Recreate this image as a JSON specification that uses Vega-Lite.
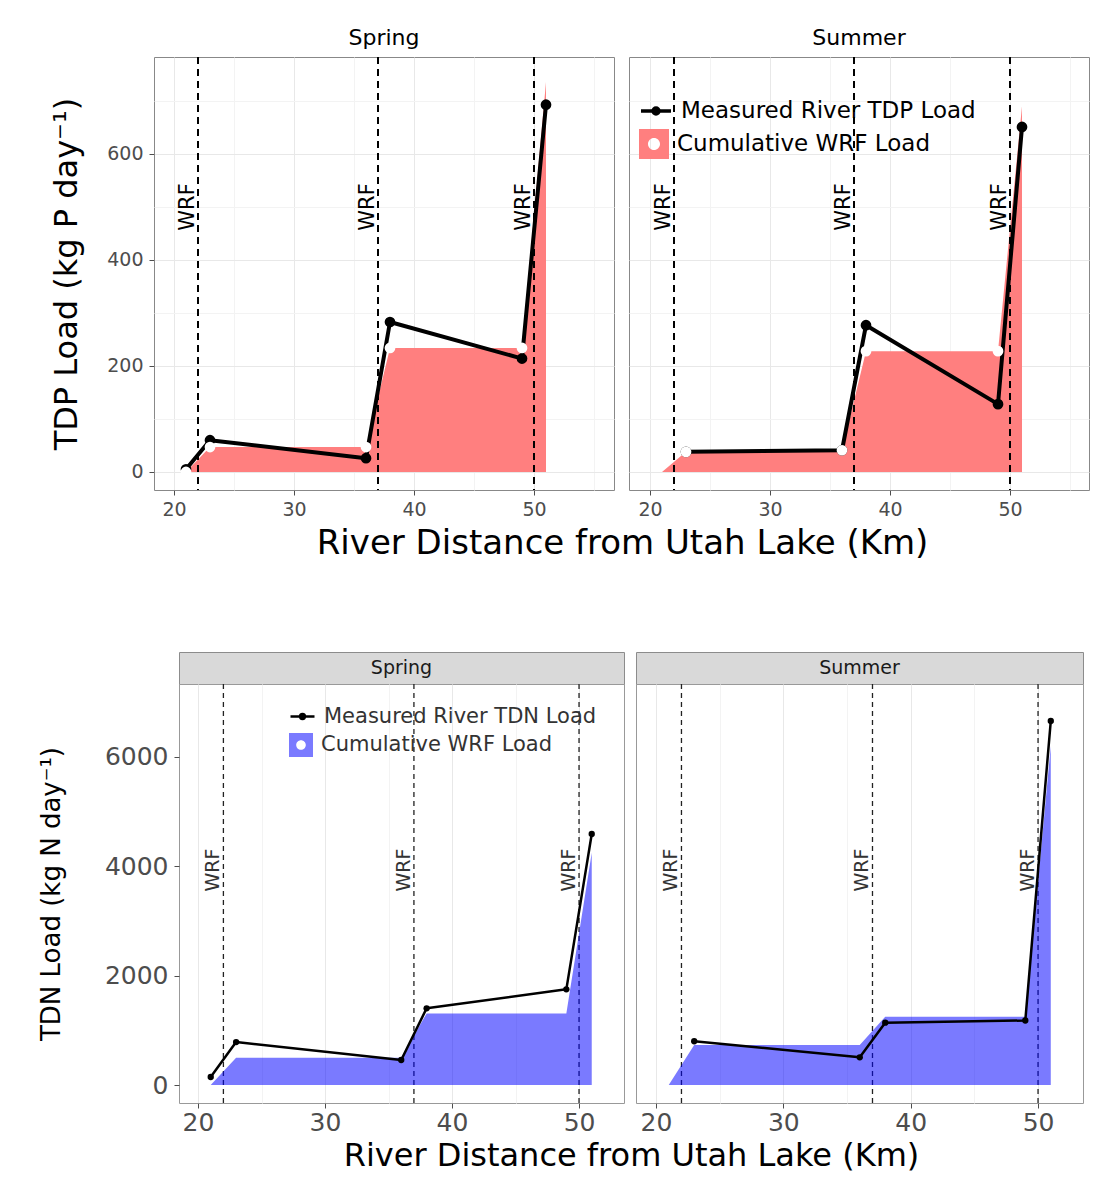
{
  "$schema": "https://vega.github.io/schema/vega-lite/v6.json",
  "background": "white",
  "padding": {"left": 37, "top": 26, "right": 10, "bottom": 10},
  "bounds": "flush",
  "spacing": 595,
  "resolve": {"scale": {"color": "independent", "fill": "independent", "stroke": "independent", "x": "independent", "y": "independent"}},
  "config": {
    "font": "DejaVu Sans",
    "view": {"stroke": "#888888"},
    "axis": {"labelFont": "DejaVu Sans", "titleFont": "DejaVu Sans", "labelColor": "#4D4D4D", "titleColor": "black", "tickColor": "#4D4D4D", "tickSize": 5, "domain": false, "gridColor": "#EBEBEB", "titleFontWeight": "normal", "labelOverlap": false},
    "legend": {"labelFont": "DejaVu Sans", "labelLimit": 600, "padding": 0, "title": null}
  },
  "datasets": {
    "tdp": [
      {"season": "Spring", "series": "Measured River TDP Load", "km": 21, "load": 5},
      {"season": "Spring", "series": "Measured River TDP Load", "km": 23, "load": 60},
      {"season": "Spring", "series": "Measured River TDP Load", "km": 36, "load": 26},
      {"season": "Spring", "series": "Measured River TDP Load", "km": 38, "load": 283},
      {"season": "Spring", "series": "Measured River TDP Load", "km": 49, "load": 214},
      {"season": "Spring", "series": "Measured River TDP Load", "km": 51, "load": 693},
      {"season": "Spring", "series": "Cumulative WRF Load", "km": 21, "load": 0},
      {"season": "Spring", "series": "Cumulative WRF Load", "km": 23, "load": 47},
      {"season": "Spring", "series": "Cumulative WRF Load", "km": 36, "load": 47},
      {"season": "Spring", "series": "Cumulative WRF Load", "km": 38, "load": 234},
      {"season": "Spring", "series": "Cumulative WRF Load", "km": 49, "load": 234},
      {"season": "Spring", "series": "Cumulative WRF Load", "km": 51, "load": 736},
      {"season": "Summer", "series": "Measured River TDP Load", "km": 23, "load": 38},
      {"season": "Summer", "series": "Measured River TDP Load", "km": 36, "load": 41},
      {"season": "Summer", "series": "Measured River TDP Load", "km": 38, "load": 277},
      {"season": "Summer", "series": "Measured River TDP Load", "km": 49, "load": 128},
      {"season": "Summer", "series": "Measured River TDP Load", "km": 51, "load": 651},
      {"season": "Summer", "series": "Cumulative WRF Load", "km": 21, "load": 0},
      {"season": "Summer", "series": "Cumulative WRF Load", "km": 23, "load": 38},
      {"season": "Summer", "series": "Cumulative WRF Load", "km": 36, "load": 41},
      {"season": "Summer", "series": "Cumulative WRF Load", "km": 38, "load": 228},
      {"season": "Summer", "series": "Cumulative WRF Load", "km": 49, "load": 228},
      {"season": "Summer", "series": "Cumulative WRF Load", "km": 51, "load": 690}
    ],
    "tdn": [
      {"season": "Spring", "series": "Measured River TDN Load", "km": 21, "load": 146},
      {"season": "Spring", "series": "Measured River TDN Load", "km": 23, "load": 786},
      {"season": "Spring", "series": "Measured River TDN Load", "km": 36, "load": 457},
      {"season": "Spring", "series": "Measured River TDN Load", "km": 38, "load": 1403},
      {"season": "Spring", "series": "Measured River TDN Load", "km": 49, "load": 1750},
      {"season": "Spring", "series": "Measured River TDN Load", "km": 51, "load": 4591},
      {"season": "Spring", "series": "Cumulative WRF Load", "km": 21, "load": 0},
      {"season": "Spring", "series": "Cumulative WRF Load", "km": 23, "load": 500},
      {"season": "Spring", "series": "Cumulative WRF Load", "km": 36, "load": 500},
      {"season": "Spring", "series": "Cumulative WRF Load", "km": 38, "load": 1310},
      {"season": "Spring", "series": "Cumulative WRF Load", "km": 49, "load": 1310},
      {"season": "Spring", "series": "Cumulative WRF Load", "km": 51, "load": 4250},
      {"season": "Summer", "series": "Measured River TDN Load", "km": 23, "load": 800},
      {"season": "Summer", "series": "Measured River TDN Load", "km": 36, "load": 507},
      {"season": "Summer", "series": "Measured River TDN Load", "km": 38, "load": 1140},
      {"season": "Summer", "series": "Measured River TDN Load", "km": 49, "load": 1180},
      {"season": "Summer", "series": "Measured River TDN Load", "km": 51, "load": 6658},
      {"season": "Summer", "series": "Cumulative WRF Load", "km": 21, "load": 0},
      {"season": "Summer", "series": "Cumulative WRF Load", "km": 23, "load": 730},
      {"season": "Summer", "series": "Cumulative WRF Load", "km": 36, "load": 730},
      {"season": "Summer", "series": "Cumulative WRF Load", "km": 38, "load": 1250},
      {"season": "Summer", "series": "Cumulative WRF Load", "km": 49, "load": 1250},
      {"season": "Summer", "series": "Cumulative WRF Load", "km": 51, "load": 6200}
    ],
    "wrf": [
      {"km": 22, "label": "WRF"},
      {"km": 37, "label": "WRF"},
      {"km": 50, "label": "WRF"}
    ],
    "strips": [
      {"season": "Spring"},
      {"season": "Summer"}
    ]
  },
  "vconcat": [
    {
      "hconcat": [
        {
          "width": 460, "height": 433,
          "title": {"text": "Spring", "fontSize": 22, "fontWeight": "normal", "font": "DejaVu Sans", "offset": 6, "anchor": "middle", "color": "black"},
          "encoding": {"x": {"field": "km", "type": "quantitative", "scale": {"domain": [18.333, 56.667], "nice": false, "zero": false},
            "axis": {"values": [20, 25, 30, 35, 40, 45, 50, 55], "labelExpr": "datum.value % 10 === 0 ? datum.label : ''",
              "tickOpacity": {"condition": {"test": "datum.value % 10 !== 0", "value": 0}, "value": 1},
              "gridColor": {"condition": {"test": "datum.value % 10 !== 0", "value": "#F3F3F3"}, "value": "#E8E8E8"},
              "labelFontSize": 19, "labelPadding": 5,
              "title": "River Distance from Utah Lake (Km)", "titleFontSize": 34, "titleX": 468, "titleY": 53, "titleBaseline": "middle"}}},
          "layer": [
            {"data": {"name": "tdp"}, "transform": [{"filter": "datum.season === 'Spring' && datum.series === 'Cumulative WRF Load'"}],
             "mark": {"type": "area", "color": "#FF7F7F", "opacity": 1},
             "encoding": {"y": {"field": "load", "type": "quantitative", "scale": {"domain": [-34, 783], "nice": false, "zero": false},
               "axis": {"values": [0, 100, 200, 300, 400, 500, 600, 700], "labelExpr": "datum.value % 200 === 0 ? datum.label : ''",
                 "tickOpacity": {"condition": {"test": "datum.value % 200 !== 0", "value": 0}, "value": 1},
                 "gridColor": {"condition": {"test": "datum.value % 200 !== 0", "value": "#F3F3F3"}, "value": "#E8E8E8"},
                 "labelFontSize": 19, "labelPadding": 6,
                 "title": "TDP Load (kg P day⁻¹)", "titleFontSize": 32, "titleX": -88, "titleBaseline": "middle"}}}},
            {"data": {"name": "wrf"}, "mark": {"type": "rule", "color": "black", "strokeWidth": 2, "strokeDash": [7, 5]}, "encoding": {}},
            {"data": {"name": "wrf"}, "mark": {"type": "text", "angle": 270, "baseline": "bottom", "align": "center", "fontSize": 21, "font": "DejaVu Sans", "color": "black"},
             "encoding": {"y": {"datum": 500, "scale": {"domain": [-34, 783], "nice": false, "zero": false}}, "text": {"field": "label"}}},
            {"data": {"name": "tdp"}, "transform": [{"filter": "datum.season === 'Spring' && datum.series === 'Measured River TDP Load'"}],
             "mark": {"type": "line", "color": "black", "strokeWidth": 4, "strokeJoin": "round"},
             "encoding": {"y": {"field": "load", "type": "quantitative", "scale": {"domain": [-34, 783], "nice": false, "zero": false}}}},
            {"data": {"name": "tdp"}, "transform": [{"filter": "datum.season === 'Spring' && datum.series === 'Measured River TDP Load'"}],
             "mark": {"type": "point", "filled": true, "color": "black", "size": 115, "opacity": 1},
             "encoding": {"y": {"field": "load", "type": "quantitative", "scale": {"domain": [-34, 783], "nice": false, "zero": false}}}},
            {"data": {"name": "tdp"}, "transform": [{"filter": "datum.season === 'Spring' && datum.series === 'Cumulative WRF Load' && datum.km < 51"}],
             "mark": {"type": "point", "filled": true, "color": "white", "size": 115, "opacity": 1},
             "encoding": {"y": {"field": "load", "type": "quantitative", "scale": {"domain": [-34, 783], "nice": false, "zero": false}}}}
          ]
        },
        {
          "width": 460, "height": 433,
          "title": {"text": "Summer", "fontSize": 22, "fontWeight": "normal", "font": "DejaVu Sans", "offset": 6, "anchor": "middle", "color": "black"},
          "encoding": {"x": {"field": "km", "type": "quantitative", "scale": {"domain": [18.25, 56.583], "nice": false, "zero": false},
            "axis": {"values": [20, 25, 30, 35, 40, 45, 50, 55], "labelExpr": "datum.value % 10 === 0 ? datum.label : ''",
              "tickOpacity": {"condition": {"test": "datum.value % 10 !== 0", "value": 0}, "value": 1},
              "gridColor": {"condition": {"test": "datum.value % 10 !== 0", "value": "#F3F3F3"}, "value": "#E8E8E8"},
              "labelFontSize": 19, "labelPadding": 5, "title": null}}},
          "layer": [
            {"data": {"name": "tdp"}, "transform": [{"filter": "datum.season === 'Summer' && datum.series === 'Cumulative WRF Load'"}],
             "mark": {"type": "area", "opacity": 1},
             "encoding": {
               "y": {"field": "load", "type": "quantitative", "scale": {"domain": [-34, 783], "nice": false, "zero": false},
                 "axis": {"values": [0, 100, 200, 300, 400, 500, 600, 700], "labels": false, "ticks": false, "title": null,
                   "gridColor": {"condition": {"test": "datum.value % 200 !== 0", "value": "#F3F3F3"}, "value": "#E8E8E8"}}},
               "fill": {"field": "series", "type": "nominal",
                 "scale": {"domain": ["Cumulative WRF Load"], "range": ["#FF7F7F"]},
                 "legend": {"orient": "none", "legendX": 10, "legendY": 72, "symbolSize": 900, "labelFontSize": 23, "labelColor": "black", "labelOffset": 8,
                   "symbolType": "M-1,-1H1V1H-1Z M0,-0.4A0.4,0.4,0,1,0,0,0.4A0.4,0.4,0,1,0,0,-0.4Z",
                   "symbolStrokeColor": "transparent", "symbolStrokeWidth": 0, "symbolOpacity": 1}}}},
            {"data": {"name": "wrf"}, "mark": {"type": "rule", "color": "black", "strokeWidth": 2, "strokeDash": [7, 5]}, "encoding": {}},
            {"data": {"name": "wrf"}, "mark": {"type": "text", "angle": 270, "baseline": "bottom", "align": "center", "fontSize": 21, "font": "DejaVu Sans", "color": "black"},
             "encoding": {"y": {"datum": 500, "scale": {"domain": [-34, 783], "nice": false, "zero": false}}, "text": {"field": "label"}}},
            {"data": {"name": "tdp"}, "transform": [{"filter": "datum.season === 'Summer' && datum.series === 'Measured River TDP Load'"}],
             "mark": {"type": "line", "strokeWidth": 4, "strokeJoin": "round"},
             "encoding": {"y": {"field": "load", "type": "quantitative", "scale": {"domain": [-34, 783], "nice": false, "zero": false}},
               "stroke": {"field": "series", "type": "nominal",
                 "scale": {"domain": ["Measured River TDP Load"], "range": ["black"]},
                 "legend": {"orient": "none", "legendX": 10, "legendY": 37, "symbolSize": 900, "labelFontSize": 23, "labelColor": "black", "labelOffset": 8,
                   "symbolType": "M-1,0H1M-0.08,0A0.08,0.08,0,1,1,0.08,0A0.08,0.08,0,1,1,-0.08,0M-0.2,0A0.2,0.2,0,1,1,0.2,0A0.2,0.2,0,1,1,-0.2,0",
                   "symbolStrokeWidth": 3.5, "symbolFillColor": "transparent", "symbolOpacity": 1}}}},
            {"data": {"name": "tdp"}, "transform": [{"filter": "datum.season === 'Summer' && datum.series === 'Measured River TDP Load'"}],
             "mark": {"type": "point", "filled": true, "color": "black", "size": 115, "opacity": 1},
             "encoding": {"y": {"field": "load", "type": "quantitative", "scale": {"domain": [-34, 783], "nice": false, "zero": false}}}},
            {"data": {"name": "tdp"}, "transform": [{"filter": "datum.season === 'Summer' && datum.series === 'Cumulative WRF Load' && datum.km > 21 && datum.km < 51"}],
             "mark": {"type": "point", "filled": true, "color": "white", "size": 115, "opacity": 1},
             "encoding": {"y": {"field": "load", "type": "quantitative", "scale": {"domain": [-34, 783], "nice": false, "zero": false}}}}
          ]
        }
      ],
      "spacing": 15,
      "bounds": "flush",
      "resolve": {"scale": {"color": "independent", "fill": "independent", "stroke": "independent", "x": "independent", "y": "independent"}}
    },
    {
      "columns": 3,
      "spacing": {"row": 0, "column": 12},
      "bounds": "flush",
      "resolve": {"scale": {"color": "independent", "fill": "independent", "stroke": "independent", "x": "independent", "y": "independent"}},
      "concat": [
        {"width": 13, "height": 32, "data": {"name": "strips"}, "mark": {"type": "text"}, "encoding": {"text": {"value": ""}}, "view": {"stroke": null}},
        {
          "width": 445, "height": 32,
          "data": {"name": "strips"},
          "transform": [{"filter": "datum.season === 'Spring'"}],
          "mark": {"type": "text", "fontSize": 19, "font": "DejaVu Sans", "color": "#1A1A1A", "baseline": "middle", "align": "center"},
          "encoding": {"text": {"field": "season"}},
          "view": {"fill": "#D9D9D9", "stroke": "#8C8C8C"}
        },
        {
          "width": 447, "height": 32,
          "data": {"name": "strips"},
          "transform": [{"filter": "datum.season === 'Summer'"}],
          "mark": {"type": "text", "fontSize": 19, "font": "DejaVu Sans", "color": "#1A1A1A", "baseline": "middle", "align": "center"},
          "encoding": {"text": {"field": "season"}},
          "view": {"fill": "#D9D9D9", "stroke": "#8C8C8C"}
        },
        {"width": 13, "height": 419, "data": {"name": "strips"}, "mark": {"type": "text"}, "encoding": {"text": {"value": ""}}, "view": {"stroke": null}},
        {
          "width": 445, "height": 419,
          "view": {"stroke": "#999999"},
          "encoding": {"x": {"field": "km", "type": "quantitative", "scale": {"domain": [18.504, 53.54], "nice": false, "zero": false},
            "axis": {"values": [20, 25, 30, 35, 40, 45, 50], "labelExpr": "datum.value % 10 === 0 ? datum.label : ''",
              "tickOpacity": {"condition": {"test": "datum.value % 10 !== 0", "value": 0}, "value": 1},
              "gridColor": {"condition": {"test": "datum.value % 10 !== 0", "value": "#F3F3F3"}, "value": "#E8E8E8"},
              "labelFontSize": 25, "labelPadding": 2,
              "title": "River Distance from Utah Lake (Km)", "titleFontSize": 32, "titleX": 452, "titleY": 52, "titleBaseline": "middle"}}},
          "layer": [
            {"data": {"name": "wrf"}, "mark": {"type": "rule", "color": "#222222", "strokeWidth": 1.3, "strokeDash": [5, 4]}, "encoding": {}},
            {"data": {"name": "wrf"}, "mark": {"type": "text", "angle": 270, "baseline": "bottom", "align": "center", "fontSize": 19, "font": "DejaVu Sans", "color": "#333333"},
             "encoding": {"y": {"datum": 3930, "scale": {"domain": [-329, 7335], "nice": false, "zero": false}}, "text": {"field": "label"}}},
            {"data": {"name": "tdn"}, "transform": [{"filter": "datum.season === 'Spring' && datum.series === 'Cumulative WRF Load' && datum.km > 21 && datum.km < 51"}],
             "mark": {"type": "point", "filled": true, "color": "white", "size": 60, "opacity": 1},
             "encoding": {"y": {"field": "load", "type": "quantitative", "scale": {"domain": [-329, 7335], "nice": false, "zero": false}}}},
            {"data": {"name": "tdn"}, "transform": [{"filter": "datum.season === 'Spring' && datum.series === 'Cumulative WRF Load'"}],
             "mark": {"type": "area", "opacity": 0.52},
             "encoding": {
               "y": {"field": "load", "type": "quantitative", "scale": {"domain": [-329, 7335], "nice": false, "zero": false},
                 "axis": {"values": [0, 1000, 2000, 3000, 4000, 5000, 6000, 7000], "labelExpr": "datum.value % 2000 === 0 ? datum.label : ''",
                   "tickOpacity": {"condition": {"test": "datum.value % 2000 !== 0", "value": 0}, "value": 1},
                   "gridColor": {"condition": {"test": "datum.value % 2000 !== 0", "value": "#F3F3F3"}, "value": "#E8E8E8"},
                   "labelFontSize": 25, "labelPadding": 6, "format": "d",
                   "title": "TDN Load (kg N day⁻¹)", "titleFontSize": 26, "titleX": -128, "titleBaseline": "middle"}},
               "fill": {"field": "series", "type": "nominal",
                 "scale": {"domain": ["Cumulative WRF Load"], "range": ["#0000FF"]},
                 "legend": {"orient": "none", "legendX": 110, "legendY": 49, "symbolSize": 576, "labelFontSize": 21, "labelColor": "#333333", "labelOffset": 8,
                   "symbolType": "M-1,-1H1V1H-1Z M0,-0.4A0.4,0.4,0,1,0,0,0.4A0.4,0.4,0,1,0,0,-0.4Z",
                   "symbolStrokeColor": "transparent", "symbolStrokeWidth": 0}}}},
            {"data": {"name": "tdn"}, "transform": [{"filter": "datum.season === 'Spring' && datum.series === 'Measured River TDN Load'"}],
             "mark": {"type": "line", "strokeWidth": 2.5, "strokeJoin": "round"},
             "encoding": {"y": {"field": "load", "type": "quantitative", "scale": {"domain": [-329, 7335], "nice": false, "zero": false}},
               "stroke": {"field": "series", "type": "nominal",
                 "scale": {"domain": ["Measured River TDN Load"], "range": ["black"]},
                 "legend": {"orient": "none", "legendX": 110, "legendY": 19, "symbolSize": 576, "labelFontSize": 21, "labelColor": "#333333", "labelOffset": 8,
                   "symbolType": "M-1,0H1M-0.08,0A0.08,0.08,0,1,1,0.08,0A0.08,0.08,0,1,1,-0.08,0M-0.2,0A0.2,0.2,0,1,1,0.2,0A0.2,0.2,0,1,1,-0.2,0",
                   "symbolStrokeWidth": 2.5, "symbolFillColor": "transparent", "symbolOpacity": 1}}}},
            {"data": {"name": "tdn"}, "transform": [{"filter": "datum.season === 'Spring' && datum.series === 'Measured River TDN Load'"}],
             "mark": {"type": "point", "filled": true, "color": "black", "size": 40, "opacity": 1},
             "encoding": {"y": {"field": "load", "type": "quantitative", "scale": {"domain": [-329, 7335], "nice": false, "zero": false}}}}
          ]
        },
        {
          "width": 447, "height": 419,
          "view": {"stroke": "#999999"},
          "encoding": {"x": {"field": "km", "type": "quantitative", "scale": {"domain": [18.43, 53.53], "nice": false, "zero": false},
            "axis": {"values": [20, 25, 30, 35, 40, 45, 50], "labelExpr": "datum.value % 10 === 0 ? datum.label : ''",
              "tickOpacity": {"condition": {"test": "datum.value % 10 !== 0", "value": 0}, "value": 1},
              "gridColor": {"condition": {"test": "datum.value % 10 !== 0", "value": "#F3F3F3"}, "value": "#E8E8E8"},
              "labelFontSize": 25, "labelPadding": 2, "title": null}}},
          "layer": [
            {"data": {"name": "wrf"}, "mark": {"type": "rule", "color": "#222222", "strokeWidth": 1.3, "strokeDash": [5, 4]}, "encoding": {}},
            {"data": {"name": "wrf"}, "mark": {"type": "text", "angle": 270, "baseline": "bottom", "align": "center", "fontSize": 19, "font": "DejaVu Sans", "color": "#333333"},
             "encoding": {"y": {"datum": 3930, "scale": {"domain": [-329, 7335], "nice": false, "zero": false}}, "text": {"field": "label"}}},
            {"data": {"name": "tdn"}, "transform": [{"filter": "datum.season === 'Summer' && datum.series === 'Cumulative WRF Load' && datum.km > 21 && datum.km < 51"}],
             "mark": {"type": "point", "filled": true, "color": "white", "size": 60, "opacity": 1},
             "encoding": {"y": {"field": "load", "type": "quantitative", "scale": {"domain": [-329, 7335], "nice": false, "zero": false}}}},
            {"data": {"name": "tdn"}, "transform": [{"filter": "datum.season === 'Summer' && datum.series === 'Cumulative WRF Load'"}],
             "mark": {"type": "area", "color": "#0000FF", "opacity": 0.52},
             "encoding": {
               "y": {"field": "load", "type": "quantitative", "scale": {"domain": [-329, 7335], "nice": false, "zero": false},
                 "axis": {"values": [0, 1000, 2000, 3000, 4000, 5000, 6000, 7000], "labels": false, "ticks": false, "title": null,
                   "gridColor": {"condition": {"test": "datum.value % 2000 !== 0", "value": "#F3F3F3"}, "value": "#E8E8E8"}}}}},
            {"data": {"name": "tdn"}, "transform": [{"filter": "datum.season === 'Summer' && datum.series === 'Measured River TDN Load'"}],
             "mark": {"type": "line", "color": "black", "strokeWidth": 2.5, "strokeJoin": "round"},
             "encoding": {"y": {"field": "load", "type": "quantitative", "scale": {"domain": [-329, 7335], "nice": false, "zero": false}}}},
            {"data": {"name": "tdn"}, "transform": [{"filter": "datum.season === 'Summer' && datum.series === 'Measured River TDN Load'"}],
             "mark": {"type": "point", "filled": true, "color": "black", "size": 40, "opacity": 1},
             "encoding": {"y": {"field": "load", "type": "quantitative", "scale": {"domain": [-329, 7335], "nice": false, "zero": false}}}}
          ]
        }
      ]
    }
  ]
}
